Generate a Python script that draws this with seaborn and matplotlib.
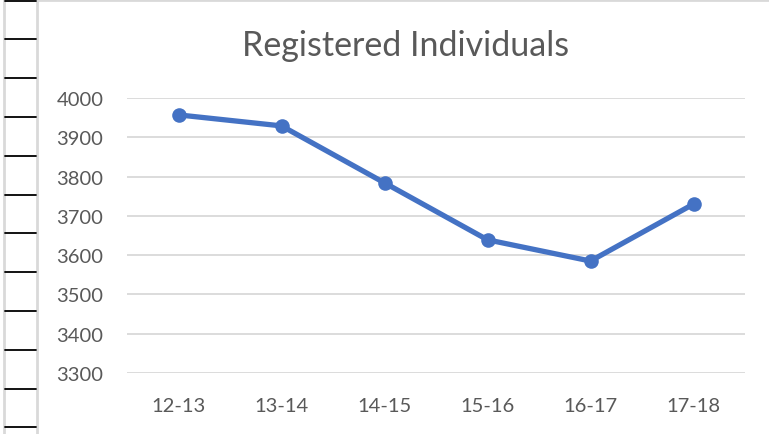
import seaborn as sns
import matplotlib.pyplot as plt
from matplotlib.lines import Line2D

# Data
seasons = ['12-13', '13-14', '14-15', '15-16', '16-17', '17-18']
registered = [3957, 3929, 3784, 3639, 3585, 3730]
yticks = [3300, 3400, 3500, 3600, 3700, 3800, 3900, 4000]

sns.set_style('white')
plt.rcParams['font.family'] = ['Lato', 'DejaVu Sans']

W, H = 769, 435
fig = plt.figure(figsize=(W / 100, H / 100), dpi=100)
ax = fig.add_axes([127 / W, 1 - 374 / H, (745 - 127) / W, (374 - 99) / H])

sns.lineplot(x=seasons, y=registered, ax=ax, color='#4472C4', linewidth=3.8,
             marker='o', markersize=10.5, markeredgewidth=0, sort=False)

ax.set_ylim(3300, 4000)
ax.set_xlim(-0.5, 5.5)
ax.set_yticks(yticks)
ax.yaxis.grid(True, color='#d9d9d9', linewidth=1.3)
ax.set_axisbelow(True)
for s in ax.spines.values():
    s.set_visible(False)
ax.tick_params(axis='both', length=0, labelsize=14.5, labelcolor='#595959')
ax.tick_params(axis='y', pad=17)
ax.tick_params(axis='x', pad=17)
ax.set_xlabel('')
ax.set_ylabel('')

fig.text(406 / W, 1 - 46 / H, 'Registered Individuals', ha='center', va='center',
         fontsize=24.5, color='#595959')

# spreadsheet row lines at the left edge of the screenshot
fig.add_artist(Line2D([4 / W, 4 / W], [0, 1], color='#d9d9d9', linewidth=2))
fig.add_artist(Line2D([37 / W, 37 / W], [0, 1], color='#d9d9d9', linewidth=2))
fig.add_artist(Line2D([37 / W, 1], [1 - 1 / H, 1 - 1 / H], color='#d9d9d9', linewidth=2))
for i in range(12):
    y = 1 - (1.5 + 38.8 * i) / H
    fig.add_artist(Line2D([5 / W, 36 / W], [y, y], color='black', linewidth=1.3))

fig.savefig('out.png', dpi=100)
